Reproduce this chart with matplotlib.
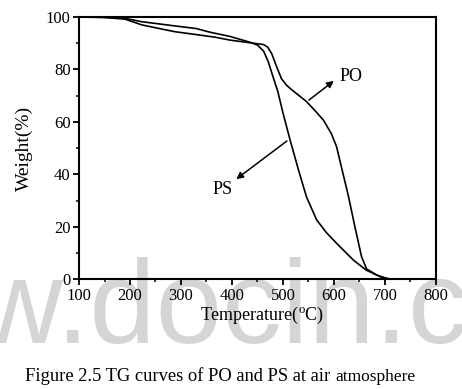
import matplotlib
matplotlib.use("Agg")
import matplotlib.pyplot as plt
from matplotlib.ticker import MultipleLocator

plt.rcParams['font.family'] = ['Liberation Serif', 'DejaVu Serif']
plt.rcParams['mathtext.fontset'] = 'custom'
plt.rcParams['mathtext.rm'] = 'Liberation Serif'

# TG curves
po_temp = [100, 150, 190, 223, 260, 288, 330, 367, 396, 435, 450, 462, 470, 478, 488,
           497, 507, 517, 530, 546, 562, 579, 595, 605, 615, 628, 641, 654, 664, 684, 703, 712]
po_weight = [100, 99.8, 99.2, 97.0, 95.5, 94.4, 93.3, 92.3, 91.2, 90.2, 89.8, 89.5, 88.5, 86.0, 80.8,
             76.5, 74.0, 72.3, 70.3, 67.8, 64.5, 60.8, 55.5, 50.6, 42.5, 32.0, 20.1, 8.7, 4.0, 1.7, 0.4, 0]

ps_temp = [100, 150, 190, 223, 260, 288, 330, 357, 396, 435, 450, 462, 471, 480, 490,
           500, 514, 530, 546, 566, 585, 605, 638, 663, 690, 703, 712]
ps_weight = [100, 99.9, 99.5, 98.2, 97.3, 96.6, 95.6, 94.2, 92.6, 90.4, 89.3, 87.0, 83.0, 77.5, 71.5,
             63.4, 53.1, 42.0, 31.5, 22.7, 17.9, 13.8, 7.4, 3.6, 1.1, 0.5, 0]

x_ticks = [100, 200, 300, 400, 500, 600, 700, 800]
y_ticks = [0, 20, 40, 60, 80, 100]

fig = plt.figure(figsize=(4.62, 3.89), dpi=100)
ax = fig.add_axes([0.171, 0.2815, 0.7727, 0.6748])
ax.patch.set_alpha(0)

# docin watermark behind everything
fig.text(-196 / 462, 46 / 389, "www.docin.com", fontsize=86, family='Liberation Sans',
         color='#d5d5d5', ha='left', va='baseline', zorder=-1)

ax.plot(po_temp, po_weight, color='black', lw=1.2)
ax.plot(ps_temp, ps_weight, color='black', lw=1.2)

ax.set_xlim(100, 800)
ax.set_ylim(0, 100)
ax.set_xticks(x_ticks)
ax.set_yticks(y_ticks)
ax.xaxis.set_minor_locator(MultipleLocator(50))
ax.yaxis.set_minor_locator(MultipleLocator(10))
ax.tick_params(which='major', direction='out', length=4.5, width=1.3, labelsize=12, pad=1.5)
ax.tick_params(which='minor', direction='out', length=2.2, width=1.1)
ax.tick_params(top=False, right=False, which='both')
for s in ax.spines.values():
    s.set_linewidth(1.5)

ax.set_xlabel(r'Temperature($^{\mathrm{o}}$C)', fontsize=13)
ax.set_ylabel('Weight(%)', fontsize=14)
ax.xaxis.label.set_va('center')
ax.yaxis.label.set_va('center')
ax.xaxis.set_label_coords(0.513, -0.137)
ax.yaxis.set_label_coords(-0.152, 0.5)

arrow = dict(arrowstyle='-|>', color='black', lw=1.1, mutation_scale=10)
ax.annotate('', xy=(604, 76.3), xytext=(546.5, 67.7), arrowprops=arrow)
ax.annotate('', xy=(404, 37.6), xytext=(512, 53.4), arrowprops=arrow)
ax.text(611, 77.5, 'PO', fontsize=13, ha='left', va='center')
ax.text(382, 34.1, 'PS', fontsize=13, ha='center', va='center')

t1 = fig.text(25 / 462, 4 / 389, 'Figure 2.5 TG curves of PO and PS at air ',
              fontsize=13.3, ha='left', va='bottom')
ax.annotate('atmosphere', xy=(1, 0), xycoords=t1, fontsize=12.5, ha='left', va='bottom')

fig.savefig('out.png', dpi=100)
